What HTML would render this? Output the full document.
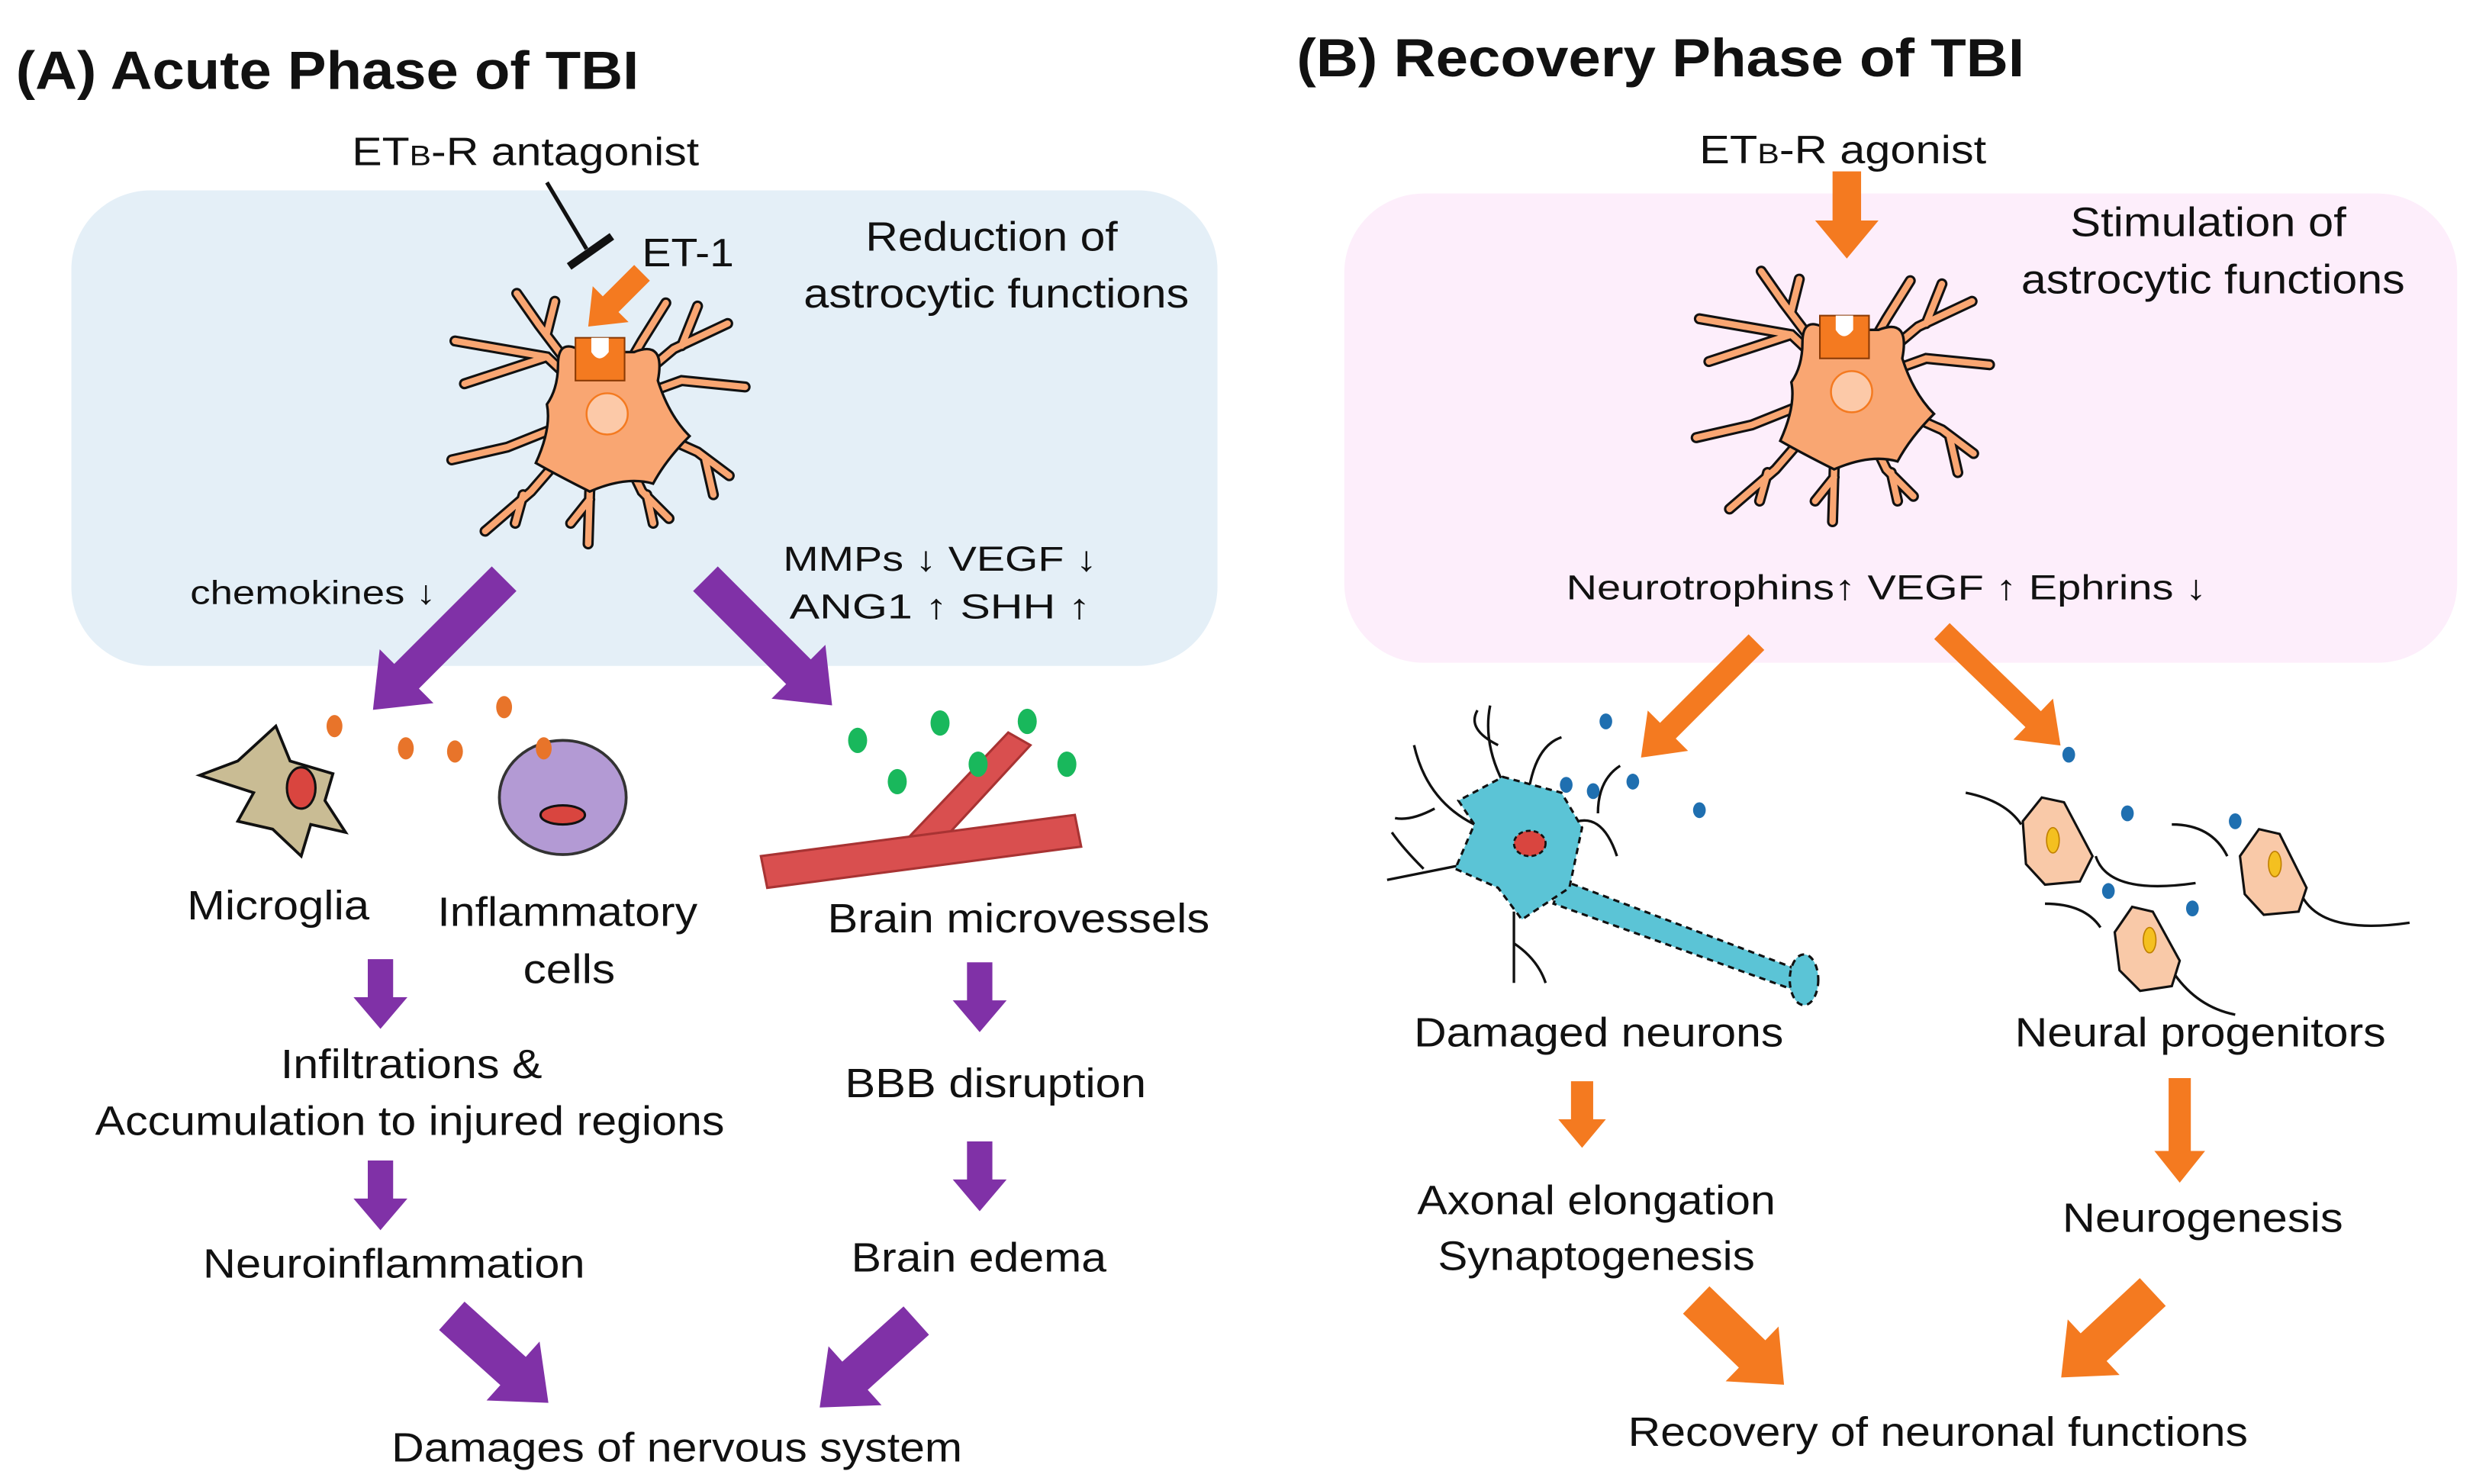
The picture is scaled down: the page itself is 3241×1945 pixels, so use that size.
<!DOCTYPE html>
<html><head><meta charset="utf-8"><style>
html,body{margin:0;padding:0;background:#fff;}
svg{display:block;}
text{font-family:"Liberation Sans",Arial,sans-serif;fill:#111;}
</style></head><body>
<svg width="3241" height="1945" viewBox="0 0 1560 936" xmlns="http://www.w3.org/2000/svg">
<defs>
<g id="astro">
  <g stroke="#111" stroke-width="7" stroke-linecap="round" fill="none">
    <path d="M380,258 L345,225 L287,215 M345,225 L293,242"/>
    <path d="M380,258 L340,205 L326,185 M345,210 L350,190"/>
    <path d="M380,258 L320,282 L285,290"/>
    <path d="M380,258 L335,310 L306,335 M330,312 L325,330"/>
    <path d="M380,258 L372,310 L371,343 M372,315 L360,330"/>
    <path d="M380,258 L405,310 L422,327 M408,312 L412,330"/>
    <path d="M380,258 L440,285 L460,300 M445,290 L450,312"/>
    <path d="M380,258 L430,240 L470,244"/>
    <path d="M380,258 L425,220 L459,204 M430,218 L440,193"/>
    <path d="M380,258 L405,215 L420,191"/>
  </g>
  <g stroke="#f9a672" stroke-width="4" stroke-linecap="round" fill="none">
    <path d="M380,258 L345,225 L287,215 M345,225 L293,242"/>
    <path d="M380,258 L340,205 L326,185 M345,210 L350,190"/>
    <path d="M380,258 L320,282 L285,290"/>
    <path d="M380,258 L335,310 L306,335 M330,312 L325,330"/>
    <path d="M380,258 L372,310 L371,343 M372,315 L360,330"/>
    <path d="M380,258 L405,310 L422,327 M408,312 L412,330"/>
    <path d="M380,258 L440,285 L460,300 M445,290 L450,312"/>
    <path d="M380,258 L430,240 L470,244"/>
    <path d="M380,258 L425,220 L459,204 M430,218 L440,193"/>
    <path d="M380,258 L405,215 L420,191"/>
  </g>
  <path d="M352,230 Q352,212 368,222 L400,222 Q420,214 415,240 Q422,262 435,275 Q420,290 412,305 Q395,300 372,310 Q352,300 338,292 Q348,270 345,255 Q352,245 352,230 Z" fill="#f9a672" stroke="#111" stroke-width="1.6"/>
  <rect x="363" y="213" width="31" height="27" fill="#f47a20" stroke="#8a3a05" stroke-width="1"/>
  <path d="M373,213 L373,222 Q378,230 384,222 L384,213 Z" fill="#fff"/>
  <circle cx="383" cy="261" r="13" fill="#fcc9a8" stroke="#f47a20" stroke-width="1.2"/>
</g>
</defs>

<rect x="45" y="120" width="723" height="300" rx="50" fill="#e4eff7"/>
<rect x="848" y="122" width="702" height="296" rx="50" fill="#fdeefb"/>

<g lengthAdjust="spacingAndGlyphs">
<text x="10" y="56" font-size="34" font-weight="bold" textLength="393" lengthAdjust="spacingAndGlyphs">(A) Acute Phase of TBI</text>
<text x="818" y="48" font-size="34" font-weight="bold" textLength="459" lengthAdjust="spacingAndGlyphs">(B) Recovery Phase of TBI</text>

<text x="222" y="104" font-size="25" textLength="219" lengthAdjust="spacingAndGlyphs">ET<tspan font-size="18">B</tspan>-R antagonist</text>
<text x="405" y="168" font-size="25" textLength="58" lengthAdjust="spacingAndGlyphs">ET-1</text>
<text x="546" y="158" font-size="26" textLength="159" lengthAdjust="spacingAndGlyphs">Reduction of</text>
<text x="507" y="194" font-size="26" textLength="243" lengthAdjust="spacingAndGlyphs">astrocytic functions</text>
<text x="120" y="381" font-size="21" textLength="155" lengthAdjust="spacingAndGlyphs">chemokines ↓</text>
<text x="494" y="360" font-size="22" textLength="198" lengthAdjust="spacingAndGlyphs">MMPs ↓  VEGF  ↓</text>
<text x="498" y="390" font-size="22" textLength="190" lengthAdjust="spacingAndGlyphs">ANG1 ↑   SHH  ↑</text>

<text x="118" y="580" font-size="26" textLength="115" lengthAdjust="spacingAndGlyphs">Microglia</text>
<text x="276" y="584" font-size="26" textLength="164" lengthAdjust="spacingAndGlyphs">Inflammatory</text>
<text x="330" y="620" font-size="26" textLength="58" lengthAdjust="spacingAndGlyphs">cells</text>
<text x="522" y="588" font-size="26" textLength="241" lengthAdjust="spacingAndGlyphs">Brain microvessels</text>
<text x="177" y="680" font-size="26" textLength="165" lengthAdjust="spacingAndGlyphs">Infiltrations &amp;</text>
<text x="60" y="716" font-size="26" textLength="397" lengthAdjust="spacingAndGlyphs">Accumulation to injured regions</text>
<text x="533" y="692" font-size="26" textLength="190" lengthAdjust="spacingAndGlyphs">BBB disruption</text>
<text x="128" y="806" font-size="26" textLength="241" lengthAdjust="spacingAndGlyphs">Neuroinflammation</text>
<text x="537" y="802" font-size="26" textLength="161" lengthAdjust="spacingAndGlyphs">Brain edema</text>
<text x="247" y="922" font-size="26" textLength="360" lengthAdjust="spacingAndGlyphs">Damages of nervous system</text>

<text x="1072" y="103" font-size="25" textLength="181" lengthAdjust="spacingAndGlyphs">ET<tspan font-size="18">B</tspan>-R agonist</text>
<text x="1306" y="149" font-size="26" textLength="174" lengthAdjust="spacingAndGlyphs">Stimulation of</text>
<text x="1275" y="185" font-size="26" textLength="242" lengthAdjust="spacingAndGlyphs">astrocytic functions</text>
<text x="988" y="378" font-size="22" textLength="404" lengthAdjust="spacingAndGlyphs">Neurotrophins↑  VEGF  ↑  Ephrins  ↓</text>
<text x="892" y="660" font-size="26" textLength="233" lengthAdjust="spacingAndGlyphs">Damaged neurons</text>
<text x="1271" y="660" font-size="26" textLength="234" lengthAdjust="spacingAndGlyphs">Neural progenitors</text>
<text x="894" y="766" font-size="26" textLength="226" lengthAdjust="spacingAndGlyphs">Axonal elongation</text>
<text x="907" y="801" font-size="26" textLength="200" lengthAdjust="spacingAndGlyphs">Synaptogenesis</text>
<text x="1301" y="777" font-size="26" textLength="177" lengthAdjust="spacingAndGlyphs">Neurogenesis</text>
<text x="1027" y="912" font-size="26" textLength="391" lengthAdjust="spacingAndGlyphs">Recovery of neuronal functions</text>
</g>

<line x1="345" y1="115" x2="370" y2="157" stroke="#111" stroke-width="2.5"/>
<line x1="359" y1="168" x2="386" y2="149" stroke="#111" stroke-width="5"/>
<use href="#astro"/>
<polygon transform="translate(405,172) rotate(135)" points="0,-7 28,-7 28,-16 48,0 28,16 28,7 0,7" fill="#f47a20"/>

<g fill="#8031a7">
<polygon transform="translate(318,365) rotate(135)" points="0,-11 87,-11 87,-24 117,0 87,24 87,11 0,11"/>
<polygon transform="translate(445,365) rotate(45)" points="0,-11 83,-11 83,-24 113,0 83,24 83,11 0,11"/>
<polygon transform="translate(240,605) rotate(90)" points="0,-8 24,-8 24,-17 44,0 24,17 24,8 0,8"/>
<polygon transform="translate(240,732) rotate(90)" points="0,-8 24,-8 24,-17 44,0 24,17 24,8 0,8"/>
<polygon transform="translate(618,607) rotate(90)" points="0,-8 24,-8 24,-17 44,0 24,17 24,8 0,8"/>
<polygon transform="translate(618,720) rotate(90)" points="0,-8 24,-8 24,-17 44,0 24,17 24,8 0,8"/>
<polygon transform="translate(285,830) rotate(42)" points="0,-12 52,-12 52,-25 82,0 52,25 52,12 0,12"/>
<polygon transform="translate(578,833) rotate(138)" points="0,-12 52,-12 52,-25 82,0 52,25 52,12 0,12"/>
</g>

<polygon points="174,458 183,480 210,488 205,505 218,525 196,520 190,540 172,523 150,518 160,500 126,489 150,480" fill="#c9bc94" stroke="#111" stroke-width="1.8"/>
<ellipse cx="190" cy="497" rx="9" ry="13" fill="#d9453f" stroke="#111" stroke-width="1.5"/>
<ellipse cx="355" cy="503" rx="40" ry="36" fill="#b39ad4" stroke="#333" stroke-width="1.8"/>
<ellipse cx="355" cy="514" rx="14" ry="6" fill="#d9453f" stroke="#111" stroke-width="1.5"/>
<g fill="#e8742a">
<ellipse cx="211" cy="458" rx="5" ry="7"/><ellipse cx="256" cy="472" rx="5" ry="7"/>
<ellipse cx="287" cy="474" rx="5" ry="7"/><ellipse cx="318" cy="446" rx="5" ry="7"/>
<ellipse cx="343" cy="472" rx="5" ry="7"/>
</g>
<polygon points="562,540 636,462 650,470 590,535" fill="#d94f4f" stroke="#a83333" stroke-width="1.5"/>
<polygon points="480,540 678,514 682,534 484,560" fill="#d94f4f" stroke="#a83333" stroke-width="1.5"/>
<g fill="#19b85c">
<ellipse cx="541" cy="467" rx="6" ry="8"/><ellipse cx="593" cy="456" rx="6" ry="8"/>
<ellipse cx="566" cy="493" rx="6" ry="8"/><ellipse cx="617" cy="482" rx="6" ry="8"/>
<ellipse cx="648" cy="455" rx="6" ry="8"/><ellipse cx="673" cy="482" rx="6" ry="8"/>
</g>

<use href="#astro" transform="translate(785,-14)"/>
<g fill="#f47a20">
<polygon transform="translate(1165,108) rotate(90)" points="0,-9 31,-9 31,-20 55,0 31,20 31,9 0,9"/>
<polygon transform="translate(1108,405) rotate(135)" points="0,-7 79,-7 79,-18 103,0 79,18 79,7 0,7"/>
<polygon transform="translate(1225,398) rotate(44)" points="0,-7 80,-7 80,-18 104,0 80,18 80,7 0,7"/>
<polygon transform="translate(998,682) rotate(90)" points="0,-7 24,-7 24,-15 42,0 24,15 24,7 0,7"/>
<polygon transform="translate(1375,680) rotate(90)" points="0,-7 46,-7 46,-16 66,0 46,16 46,7 0,7"/>
<polygon transform="translate(1070,820) rotate(44)" points="0,-12 49,-12 49,-24 77,0 49,24 49,12 0,12"/>
<polygon transform="translate(1358,815) rotate(137)" points="0,-12 51,-12 51,-24 79,0 51,24 51,12 0,12"/>
</g>

<g stroke="#111" stroke-width="1.6" fill="none">
<path d="M950,497 Q935,470 940,445 M945,470 Q925,460 932,448"/>
<path d="M930,520 Q900,505 892,470 M905,510 Q890,518 880,516"/>
<path d="M925,545 Q900,550 875,555 M898,548 Q885,535 878,525"/>
<path d="M955,575 Q955,600 955,620 M955,595 Q970,605 975,620"/>
<path d="M990,520 Q1010,510 1020,540 M1008,513 Q1008,492 1022,483"/>
<path d="M965,495 Q970,470 985,465"/>
</g>
<path d="M985,555 L1130,610 L1136,626 L980,570 Z" fill="#5bc4d6" stroke="#111" stroke-width="1.5" stroke-dasharray="4,3"/>
<ellipse cx="1138" cy="618" rx="9" ry="16" fill="#5bc4d6" stroke="#111" stroke-width="1.5" stroke-dasharray="4,3"/>
<polygon points="948,490 985,500 998,522 990,560 960,580 945,560 918,548 930,520 920,505" fill="#5bc4d6" stroke="#111" stroke-width="1.5" stroke-dasharray="4,3"/>
<ellipse cx="965" cy="532" rx="10" ry="8" fill="#d9453f" stroke="#111" stroke-width="1.3" stroke-dasharray="3,2"/>
<g fill="#1f6fb0">
<ellipse cx="1013" cy="455" rx="4" ry="5"/><ellipse cx="988" cy="495" rx="4" ry="5"/>
<ellipse cx="1005" cy="499" rx="4" ry="5"/><ellipse cx="1030" cy="493" rx="4" ry="5"/>
<ellipse cx="1072" cy="511" rx="4" ry="5"/><ellipse cx="1305" cy="476" rx="4" ry="5"/>
<ellipse cx="1342" cy="513" rx="4" ry="5"/><ellipse cx="1410" cy="518" rx="4" ry="5"/>
<ellipse cx="1330" cy="562" rx="4" ry="5"/><ellipse cx="1383" cy="573" rx="4" ry="5"/>
</g>
<g stroke="#111" stroke-width="1.6" fill="none">
<path d="M1240,500 Q1265,505 1275,520 M1322,540 Q1330,565 1385,557"/>
<path d="M1370,520 Q1395,520 1405,540 M1452,565 Q1465,590 1520,582"/>
<path d="M1290,570 Q1315,570 1325,585 M1370,612 Q1385,635 1410,640"/>
</g>
<g fill="#f9c9a8" stroke="#111" stroke-width="1.5">
<polygon points="1288,503 1302,506 1320,540 1312,556 1290,558 1278,545 1276,518"/>
<polygon points="1425,523 1438,526 1455,560 1450,575 1428,577 1416,564 1413,540"/>
<polygon points="1345,572 1358,575 1375,606 1370,622 1350,625 1337,612 1334,588"/>
</g>
<g fill="#f4c020" stroke="#c08000" stroke-width="0.8">
<ellipse cx="1295" cy="530" rx="4" ry="8"/><ellipse cx="1435" cy="545" rx="4" ry="8"/><ellipse cx="1356" cy="593" rx="4" ry="8"/>
</g>
</svg>
</body></html>
